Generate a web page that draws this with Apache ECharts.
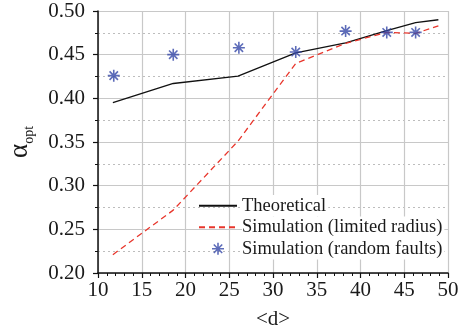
<!DOCTYPE html>
<html>
<head>
<meta charset="utf-8">
<script src="https://cdn.jsdelivr.net/npm/echarts@6/dist/echarts.min.js"></script>
<style>
  html, body { margin: 0; padding: 0; background: #fff; }
  #chart { width: 463px; height: 332px; }
</style>
</head>
<body>
<div id="chart"></div>
<script>
// values
const dTheory = [11.7, 18.6, 26.0, 32.6, 38.3, 43.0, 46.3, 48.9];
const alphaTheory = [0.395, 0.417, 0.4255, 0.452, 0.4636, 0.4774, 0.4866, 0.490];
const dLimited = [11.7, 18.6, 26.0, 32.6, 38.3, 43.0, 46.3, 48.9];
const alphaLimited = [0.221, 0.272, 0.351, 0.440, 0.463, 0.4755, 0.4744, 0.483];
const dRandom = [11.8, 18.6, 26.1, 32.6, 38.3, 43.0, 46.3];
const alphaRandom = [0.426, 0.450, 0.458, 0.453, 0.477, 0.4755, 0.4755];
const seriesNames = ['Theoretical', 'Simulation (limited radius)', 'Simulation (random faults)'];

const pairs = (xs, ys) => xs.map((x, i) => [x, ys[i]]);
const serif = 'Liberation Serif';
const ink = '#1a1a1a';
const asterisk = 'path://M0,-10L0,10M-10,0L10,0M-7,-7L7,7M-7,7L7,-7';
const starStyle = { color: 'transparent', borderColor: '#3447a8', borderWidth: 1.6 };

const chart = echarts.init(document.getElementById('chart'), null, { renderer: 'canvas' });

chart.setOption({
  backgroundColor: '#fff',
  animation: false,
  grid: { left: 98, right: 15, top: 11, bottom: 59, outerBoundsMode: 'none' },
  legend: {
    orient: 'vertical',
    left: 198,
    top: 195,
    itemGap: 0,
    itemWidth: 38,
    itemHeight: 12,
    padding: 0,
    data: [
      { name: seriesNames[0], itemStyle: { opacity: 0 } },
      { name: seriesNames[1], itemStyle: { opacity: 0 } },
      { name: seriesNames[2], icon: asterisk, itemStyle: starStyle }
    ],
    textStyle: {
      fontFamily: serif, fontSize: 18.5, color: ink,
      backgroundColor: '#fff', lineHeight: 21.5, padding: [0, 2, 0, 0]
    }
  },
  xAxis: {
    type: 'value',
    min: 10, max: 50, interval: 5,
    name: '<d>',
    nameLocation: 'middle',
    nameGap: 36,
    nameTextStyle: { fontFamily: serif, fontSize: 21, color: ink },
    axisLine: { lineStyle: { color: '#111', width: 1.5 } },
    axisTick: { length: 5, lineStyle: { color: '#111', width: 1.2 } },
    minorTick: { show: true, splitNumber: 5, length: 3, lineStyle: { color: '#111', width: 1 } },
    axisLabel: { fontFamily: serif, fontSize: 21, color: ink, margin: 7 },
    splitLine: { show: true, lineStyle: { color: '#c8c8c8', width: 1.2 } }
  },
  yAxis: {
    type: 'value',
    min: 0.2, max: 0.5, interval: 0.05,
    name: '{a|α}{s|opt}',
    nameLocation: 'middle',
    nameRotate: 90,
    nameGap: 62,
    nameTextStyle: {
      rich: {
        a: { fontFamily: serif, fontSize: 27, color: ink, verticalAlign: 'bottom', padding: [0, 0, 3, 0] },
        s: { fontFamily: serif, fontSize: 14, color: ink, verticalAlign: 'bottom' }
      }
    },
    axisLine: { show: true, lineStyle: { color: '#111', width: 1.5 } },
    axisTick: { show: true, length: 5, lineStyle: { color: '#111', width: 1.2 } },
    minorTick: { show: true, splitNumber: 2, length: 3, lineStyle: { color: '#111', width: 1 } },
    axisLabel: { fontFamily: serif, fontSize: 21, color: ink, margin: 13, formatter: v => v.toFixed(2) },
    splitLine: { show: true, lineStyle: { color: '#c8c8c8', width: 1.2 } },
    minorSplitLine: { show: true, lineStyle: { color: '#bdbdbd', width: 1, type: [2, 3] } }
  },
  series: [
    {
      name: seriesNames[0],
      type: 'line',
      data: pairs(dTheory, alphaTheory),
      symbol: 'none',
      lineStyle: { color: '#111', width: 1.3 },
      itemStyle: { color: '#111' },
      z: 3
    },
    {
      name: seriesNames[1],
      type: 'line',
      data: pairs(dLimited, alphaLimited),
      symbol: 'none',
      lineStyle: { color: '#e8362c', width: 1.3, type: [6, 4] },
      itemStyle: { color: '#e8362c' },
      z: 3
    },
    {
      name: seriesNames[2],
      type: 'scatter',
      data: pairs(dRandom, alphaRandom),
      symbol: asterisk,
      symbolSize: 12,
      itemStyle: starStyle,
      z: 4
    }
  ]
});
</script>
</body>
</html>
